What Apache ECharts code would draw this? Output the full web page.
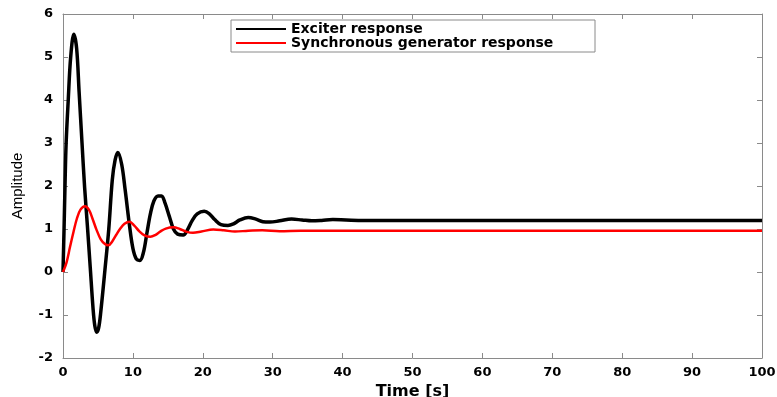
<!DOCTYPE html>
<html>
<head>
<meta charset="utf-8">
<script src="https://cdn.jsdelivr.net/npm/echarts@6/dist/echarts.min.js"></script>
<style>
  html, body { margin: 0; padding: 0; background: #fff; }
  #chart { width: 777px; height: 397px; }
</style>
</head>
<body>
<div id="chart"></div>
<script>
// values
const exciterT = [0, 0.15, 0.3, 0.45, 0.75, 1.1, 1.55, 1.95, 2.3, 2.72, 3.1, 3.5, 3.9, 4.3, 4.55, 4.82, 5.1, 5.39, 6.0, 6.55, 7.05, 7.45, 7.85,
  8.4, 8.9, 9.5, 10.0, 10.5, 11.0, 11.5, 12.0, 12.5, 13.0, 13.6, 14.1, 14.6, 15.2, 15.8, 16.4, 17.2, 17.8, 18.5,
  19.2, 20.2, 20.9, 21.7, 22.6, 23.6, 24.4, 25.3, 26.5, 27.6, 28.6, 29.6, 31.0, 32.7, 34.2, 35.6, 37.0, 38.6,
  40.5, 43, 46, 55, 70, 85, 100]
const exciterV = [0, 1.0, 2.1, 3.0, 4.0, 5.0, 5.53, 5.2, 4.2, 3.0, 1.95, 1.05, 0.1, -0.85, -1.25, -1.4, -1.3, -0.95, 0.05, 1.0, 2.14, 2.6, 2.78,
  2.5, 1.9, 1.1, 0.55, 0.3, 0.27, 0.45, 0.9, 1.35, 1.65, 1.77, 1.77, 1.6, 1.3, 1.0, 0.88, 0.86, 0.98, 1.2,
  1.35, 1.41, 1.36, 1.22, 1.1, 1.08, 1.12, 1.21, 1.27, 1.23, 1.17, 1.16, 1.19, 1.23, 1.21, 1.19, 1.2, 1.22,
  1.21, 1.2, 1.2, 1.2, 1.2, 1.2, 1.2]

const generatorT = [0, 0.5, 1.0, 1.5, 2.0, 2.5, 3.15, 3.7, 4.2, 4.8, 5.4, 6.0, 6.5, 7.0, 7.6, 8.2, 8.8, 9.5, 10.2, 10.9,
  11.6, 12.5, 13.2, 13.9, 14.7, 15.8, 16.7, 17.6, 18.6, 19.8, 21.5, 23.0, 24.6, 26.5, 28.5, 31, 34, 45, 60, 80, 100]
const generatorV = [0, 0.22, 0.58, 0.93, 1.25, 1.45, 1.53, 1.45, 1.25, 0.98, 0.76, 0.65, 0.62, 0.7, 0.86, 1.01, 1.12, 1.17, 1.08, 0.95,
  0.86, 0.82, 0.86, 0.94, 1.01, 1.04, 1.0, 0.94, 0.91, 0.94, 0.99, 0.97, 0.94, 0.96, 0.97, 0.95, 0.96, 0.96, 0.96, 0.96, 0.96]

const seriesNames = ['Exciter response', 'Synchronous generator response']

const chart = echarts.init(document.getElementById('chart'))

const labelFont = {
  fontFamily: 'DejaVu Sans',
  fontWeight: 'bold',
  fontSize: 13,
  color: '#000'
}
const axisLineStyle = { onZero: false, lineStyle: { color: '#8a8a8a', width: 1 } }
const tickStyle = { show: true, inside: true, length: 5, lineStyle: { color: '#8a8a8a' } }

const option = {
  animation: false,
  backgroundColor: '#fff',
  grid: { left: 63, right: 15, top: 14, bottom: 39, outerBoundsMode: 'none', containLabel: false },
  legend: {
    orient: 'vertical',
    left: 231,
    top: 20,
    padding: [2, 8, 2, 5],
    itemGap: 0,
    itemWidth: 50,
    itemHeight: 2,
    borderColor: '#8a8a8a',
    borderWidth: 1,
    backgroundColor: '#fff',
    textStyle: { fontFamily: 'DejaVu Sans', fontWeight: 'bold', fontSize: 14, lineHeight: 13, width: 296, color: '#000' },
    data: seriesNames.map(n => ({ name: n, icon: 'rect' }))
  },
  xAxis: [
    {
      type: 'value',
      min: 0,
      max: 100,
      interval: 10,
      name: 'Time [s]',
      nameLocation: 'middle',
      nameGap: 18,
      nameTextStyle: { fontFamily: 'DejaVu Sans', fontWeight: 'bold', fontSize: 16, color: '#000' },
      axisLine: axisLineStyle,
      axisTick: tickStyle,
      axisLabel: Object.assign({ margin: 8 }, labelFont),
      splitLine: { show: false }
    },
    {
      type: 'value',
      position: 'top',
      min: 0,
      max: 100,
      interval: 10,
      axisLine: axisLineStyle,
      axisTick: tickStyle,
      axisLabel: { show: false },
      splitLine: { show: false }
    }
  ],
  yAxis: [
    {
      type: 'value',
      min: -2,
      max: 6,
      interval: 1,
      name: 'Amplitude',
      nameLocation: 'middle',
      nameGap: 38,
      nameTextStyle: { fontFamily: 'Liberation Sans', fontSize: 15, color: '#000' },
      axisLine: Object.assign({ show: true }, axisLineStyle),
      axisTick: tickStyle,
      axisLabel: Object.assign({ margin: 10 }, labelFont),
      splitLine: { show: false }
    },
    {
      type: 'value',
      position: 'right',
      min: -2,
      max: 6,
      interval: 1,
      axisLine: Object.assign({ show: true }, axisLineStyle),
      axisTick: tickStyle,
      axisLabel: { show: false },
      splitLine: { show: false }
    }
  ],
  series: [
    {
      name: seriesNames[0],
      type: 'line',
      smooth: 0.35,
      symbol: 'none',
      color: '#000',
      lineStyle: { color: '#000', width: 3.5 },
      data: exciterT.map((t, i) => [t, exciterV[i]])
    },
    {
      name: seriesNames[1],
      type: 'line',
      smooth: 0.35,
      symbol: 'none',
      color: '#ff0000',
      lineStyle: { color: '#ff0000', width: 2.5 },
      data: generatorT.map((t, i) => [t, generatorV[i]])
    }
  ]
}

chart.setOption(option)
</script>
</body>
</html>
